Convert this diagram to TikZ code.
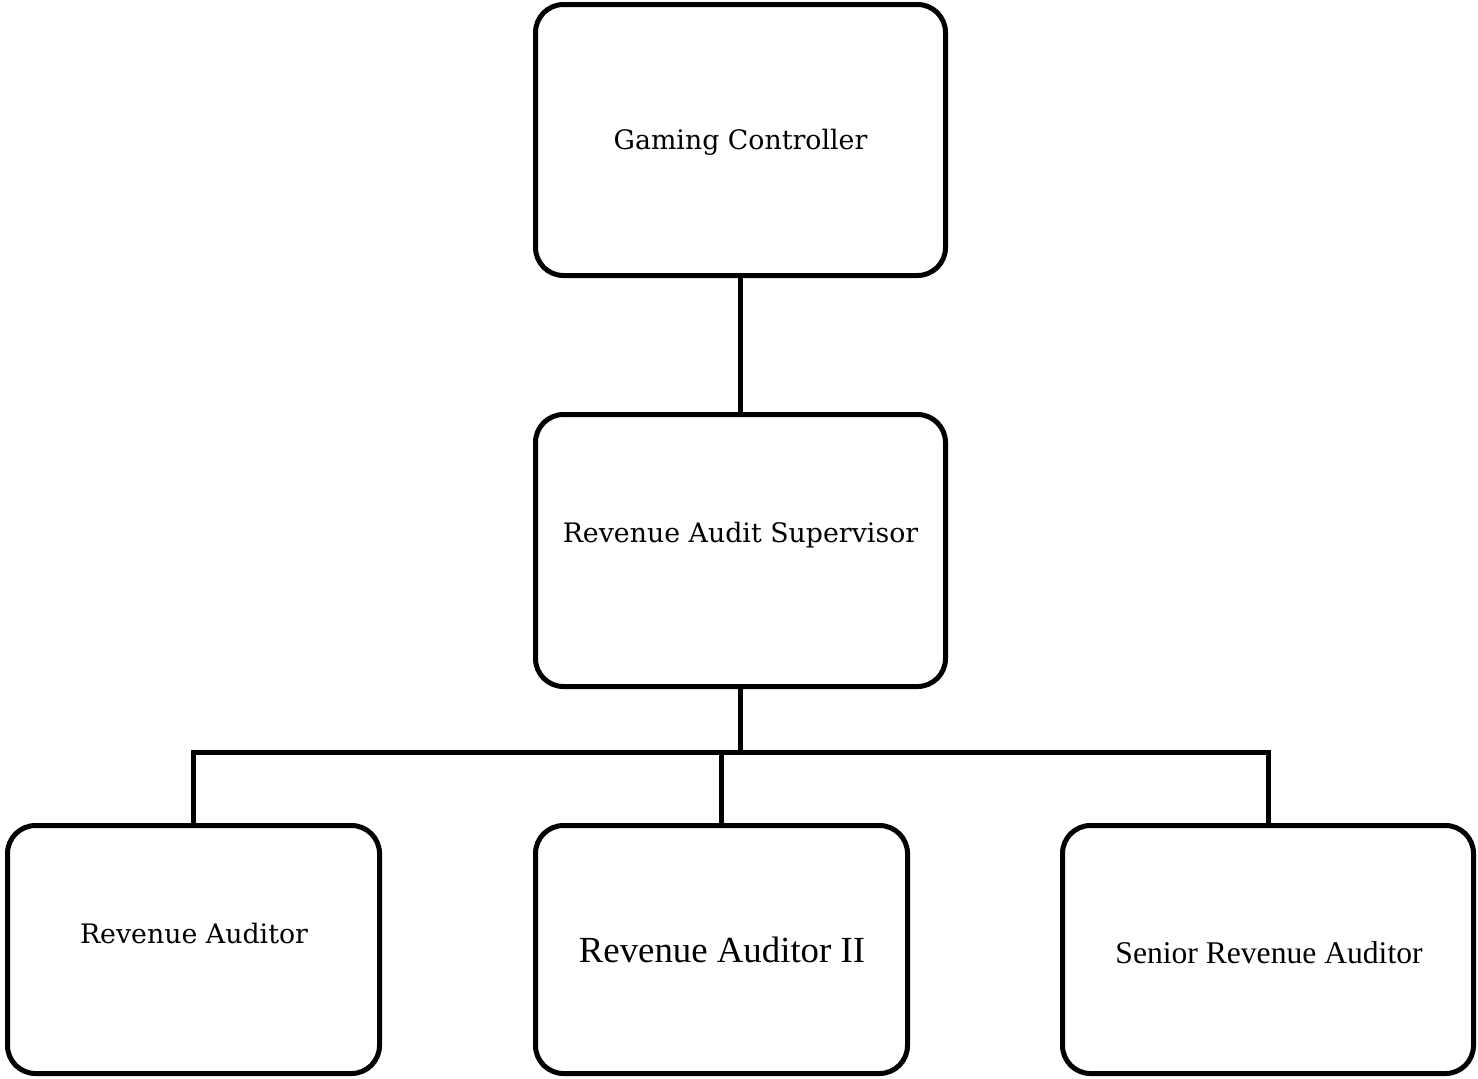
\documentclass[tikz,border=0pt]{standalone}
\usepackage{fontspec}
\setmainfont{DejaVu Serif}
\newfontfamily\timesfont{Liberation Serif}
\usepackage{tikz}

\tikzset{
  box/.style={draw, line width=2.5pt, rounded corners=14pt, inner sep=0pt},
  conn/.style={line width=2.5pt, line join=miter},
  lbl/.style={font=\fontsize{13.4}{16}\selectfont, inner sep=0pt},
  tlbl/.style={font=\timesfont, inner sep=0pt}
}

\begin{document}
\begin{tikzpicture}[x=0.5pt, y=-0.5pt]
			\useasboundingbox (0,0) rectangle (1478,1078);

			\node[box, minimum width=205pt, minimum height=135.5pt] (ctrl) at (740.5,140) {};
			\node[box, minimum width=205pt, minimum height=136pt] (sup) at (740.5,550.5) {};
			\node[box, minimum width=186pt, minimum height=124pt] (aud) at (193.5,949.5) {};
			\node[box, minimum width=186pt, minimum height=124pt] (aud2) at (721.5,949.5) {};
			\node[box, minimum width=205.5pt, minimum height=124pt] (sen) at (1268,949.5) {};

			\node[lbl] (ctrl-t) at (740.5,142) {Gaming Controller};
			\node[lbl] (sup-t) at (740.5,535) {Revenue Audit Supervisor};
			\node[lbl] (aud-t) at (194,933) {Revenue Auditor};
			\node[tlbl, font=\timesfont\fontsize{18.4}{20}\selectfont] (aud2-t) at (722,950) {Revenue Auditor II};
			\node[tlbl, font=\timesfont\fontsize{15.8}{18}\selectfont] (sen-t) at (1269,953) {Senior Revenue Auditor};

			\coordinate (bus) at (740.5,752);

			\draw[conn] (ctrl) -- (sup);
			\draw[conn] (sup) -- (bus);
			\draw[conn] (aud) |- (bus) -| (sen);
			\draw[conn] (aud2) -- (aud2 |- bus);
		\end{tikzpicture}
\end{document}
